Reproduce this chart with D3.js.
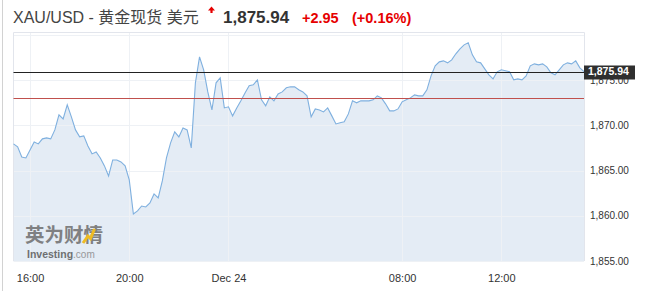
<!DOCTYPE html>
<html>
<head>
<meta charset="utf-8">
<script src="https://cdnjs.cloudflare.com/ajax/libs/d3/7.8.5/d3.min.js"></script>
<style>
  body { margin: 0; background: #fff; }
  svg { display: block; font-family: Arial, "Liberation Sans", "Noto Sans CJK SC", sans-serif; }
</style>
</head>
<body>
<div id="chart"></div>
<script>
// chart header
var symbolName = "XAU/USD - 黄金现货 美元";
var lastPrice = 1875.94;
var prevClose = 1872.99;
var changeText = "+2.95";
var changePct = "(+0.16%)";

// 10 minute closes, 15:20 Dec 23 -> 14:10 Dec 24 (one hour closed at 06:00)
var closes = [
  1867.94, 1867.61, 1866.50, 1866.39, 1867.28, 1868.16, 1867.94, 1868.50, 1868.61, 1868.50,
  1869.49, 1871.15, 1870.71, 1872.26, 1870.93, 1869.49, 1868.72, 1868.83, 1867.72, 1866.84,
  1867.06, 1866.39, 1865.51, 1864.40, 1866.17, 1866.17, 1865.95, 1865.51, 1863.96, 1860.20,
  1860.53, 1861.08, 1860.97, 1861.42, 1862.41, 1861.97, 1863.85, 1866.39, 1868.05, 1869.27,
  1868.72, 1869.71, 1869.49, 1867.50, 1874.69, 1877.57, 1876.13, 1873.69, 1871.70, 1874.69,
  1875.24, 1871.92, 1872.04, 1871.04, 1871.92, 1872.70, 1873.58, 1874.36, 1874.47, 1875.02,
  1872.81, 1872.15, 1873.14, 1872.70, 1873.47, 1873.69, 1874.14, 1874.25, 1874.25, 1873.92,
  1873.69, 1873.25, 1870.93, 1871.81, 1871.70, 1871.48, 1871.92, 1871.04, 1870.15, 1870.27,
  1870.38, 1871.26, 1872.70, 1872.48, 1872.70, 1872.70, 1872.70, 1872.81, 1873.25, 1873.03,
  1872.37, 1871.59, 1871.59, 1871.81, 1872.59, 1872.81, 1873.03, 1873.36, 1873.25, 1873.25,
  1873.92, 1875.46, 1876.57, 1877.01, 1877.12, 1876.90, 1877.23, 1877.90, 1878.45, 1878.89,
  1879.12, 1877.79, 1877.01, 1876.90, 1876.24, 1875.58, 1875.13, 1875.91, 1876.13, 1876.02,
  1875.91, 1875.02, 1875.13, 1875.02, 1875.46, 1876.57, 1876.79, 1876.68, 1876.79, 1876.46,
  1875.80, 1875.58, 1876.13, 1876.68, 1876.90, 1876.79, 1877.12, 1876.35, 1875.94
];

var startTime = "2020-12-23T15:20";
var closedFrom = "2020-12-24T06:00";
var closedTo = "2020-12-24T07:00";

var tickTimes = ["2020-12-23T16:00", "2020-12-23T20:00", "2020-12-24T00:00", "2020-12-24T08:00", "2020-12-24T12:00"];
var tickLabels = ["16:00", "20:00", "Dec 24", "08:00", "12:00"];
var priceTicks = [1855, 1860, 1865, 1870, 1875];
var priceGrid = [1855, 1860, 1865, 1870, 1875, 1880];

// build the time of every bar, skipping the closed hour
var parse = d3.timeParse("%Y-%m-%dT%H:%M");
var fmt = d3.timeFormat("%Y-%m-%dT%H:%M");
var t = parse(startTime);
var data = closes.map(function(v, i) {
  var d = { i: i, time: fmt(t), v: v };
  t = d3.timeMinute.offset(t, 10);
  if (t >= parse(closedFrom) && t < parse(closedTo)) t = parse(closedTo);
  return d;
});
var tickIdx = tickTimes.map(function(s) {
  return data.find(function(d) { return d.time === s; }).i;
});

var W = 646, H = 291;
var plot = { left: 13.5, right: 584, top: 33, bottom: 261 };

var svg = d3.select("#chart").append("svg")
  .attr("width", W)
  .attr("height", H);

var x = d3.scaleLinear()
  .domain([0, closes.length - 1])
  .range([plot.left, plot.right]);

var y = d3.scaleLinear()
  .domain([1855, 1880.2])
  .range([plot.bottom, plot.top]);

//outer frame line on the left
svg.append("line")
  .attr("x1", 2.5).attr("x2", 2.5)
  .attr("y1", 0).attr("y2", H)
  .attr("stroke", "#d2d2d2");

//header
var head = svg.append("g");
head.append("text")
  .attr("x", 13).attr("y", 23)
  .attr("fill", "#444")
  .style("font-size", "16px")
  .text(symbolName);
head.append("path")
  .attr("d", "M211.5,6.5 L215,10.5 L212.6,10.5 L212.6,13 L210.4,13 L210.4,10.5 L208,10.5 Z")
  .attr("fill", "#e60000");
head.append("text")
  .attr("x", 223).attr("y", 23)
  .attr("fill", "#333")
  .style("font-size", "17px")
  .style("font-weight", "bold")
  .text(d3.format(",.2f")(lastPrice));
head.append("text")
  .attr("x", 302).attr("y", 23)
  .attr("fill", "#e60000")
  .style("font-size", "14.5px")
  .style("font-weight", "bold")
  .text(changeText);
head.append("text")
  .attr("x", 352).attr("y", 23)
  .attr("fill", "#e60000")
  .style("font-size", "14.5px")
  .style("font-weight", "bold")
  .text(changePct);

//area under the line
var area = d3.area()
  .x(function(d) { return x(d.i); })
  .y0(plot.bottom)
  .y1(function(d) { return y(d.v); });

svg.append("path")
  .datum(data)
  .attr("d", area)
  .attr("fill", "#e4ecf5");

//grid lines
svg.append("g").selectAll("line")
  .data(priceGrid)
  .enter().append("line")
  .attr("x1", plot.left).attr("x2", plot.right)
  .attr("y1", function(d) { return Math.round(y(d)) + 0.5; })
  .attr("y2", function(d) { return Math.round(y(d)) + 0.5; })
  .attr("stroke", "#eef1f5");

svg.append("g").selectAll("line")
  .data(tickIdx)
  .enter().append("line")
  .attr("x1", function(d) { return Math.round(x(d)) + 0.5; })
  .attr("x2", function(d) { return Math.round(x(d)) + 0.5; })
  .attr("y1", plot.top).attr("y2", plot.bottom)
  .attr("stroke", "#eef1f5");

//plot border
svg.append("path")
  .attr("d", "M13.5," + plot.bottom + " V32.5 H584.5 V" + plot.bottom)
  .attr("fill", "none")
  .attr("stroke", "#e2e5ec");

//watermark
var wm = svg.append("g").attr("opacity", 0.85);
wm.append("text")
  .attr("x", 25).attr("y", 241.5)
  .attr("fill", "#6e6e6e")
  .style("font-size", "19.5px")
  .style("font-weight", "bold")
  .style("font-family", "'Noto Sans CJK SC', sans-serif")
  .text("英为财情");
wm.append("path")
  .attr("d", "M83,243 L88,236 L90.5,238.5 L94.5,229")
  .attr("fill", "none")
  .attr("stroke", "#f0b400")
  .attr("stroke-width", 3);
wm.append("text")
  .attr("x", 27).attr("y", 257.5)
  .style("font-size", "10.5px")
  .attr("fill", "#5a5a5a")
  .style("font-weight", "bold")
  .text("Investing")
  .append("tspan")
  .style("font-weight", "normal")
  .style("font-size", "10px")
  .attr("fill", "#8a8a8a")
  .text(".com");

//price line
var line = d3.line()
  .x(function(d) { return x(d.i); })
  .y(function(d) { return y(d.v); });

svg.append("path")
  .datum(data)
  .attr("d", line)
  .attr("fill", "none")
  .attr("stroke", "#7fb0df")
  .attr("stroke-width", 1.1);

//last price and previous close lines
svg.append("line")
  .attr("x1", plot.left).attr("x2", plot.right)
  .attr("y1", Math.round(y(lastPrice)) + 0.5)
  .attr("y2", Math.round(y(lastPrice)) + 0.5)
  .attr("stroke", "#222");
svg.append("line")
  .attr("x1", plot.left).attr("x2", plot.right)
  .attr("y1", Math.round(y(prevClose)) + 0.5)
  .attr("y2", Math.round(y(prevClose)) + 0.5)
  .attr("stroke", "#c0504d");

//x axis
var xAxis = svg.append("g")
  .attr("transform", "translate(0," + plot.bottom + ")")
  .call(d3.axisBottom(x).tickValues(tickIdx)
    .tickFormat(function(d, i) { return tickLabels[i]; })
    .tickSize(0).tickPadding(13));
xAxis.select(".domain").remove();
xAxis.selectAll("text")
  .attr("fill", "#333")
  .style("font-size", "11px")
  .style("font-family", "Arial, 'Liberation Sans', sans-serif");

//y axis on the right
var yAxis = svg.append("g")
  .attr("transform", "translate(" + plot.right + ",0)")
  .call(d3.axisRight(y).tickValues(priceTicks)
    .tickFormat(d3.format(",.2f"))
    .tickSize(0).tickPadding(6));
yAxis.select(".domain").remove();
yAxis.selectAll("text")
  .attr("fill", "#333")
  .style("font-size", "10px")
  .style("font-family", "Arial, 'Liberation Sans', sans-serif");

//last price tag
var tagY = y(lastPrice);
svg.append("rect")
  .attr("x", plot.right)
  .attr("y", Math.round(tagY) - 6.5)
  .attr("width", 51)
  .attr("height", 14)
  .attr("fill", "#2f2f2f");
svg.append("text")
  .attr("x", plot.right + 4)
  .attr("y", tagY)
  .attr("dy", "0.35em")
  .attr("fill", "#fff")
  .style("font-size", "10.5px")
  .style("font-weight", "bold")
  .text(d3.format(",.2f")(lastPrice));
</script>
</body>
</html>
